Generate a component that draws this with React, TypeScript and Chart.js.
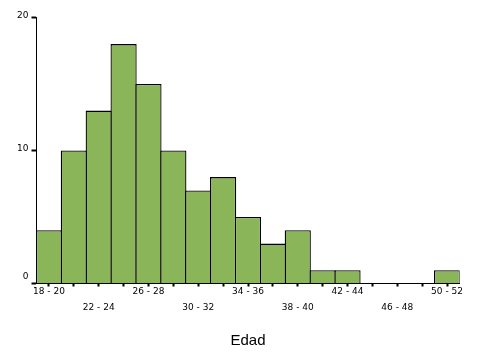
import React, { useEffect, useRef } from "react";
import { Chart, registerables } from "chart.js";

Chart.register(...registerables);

const categories = [
  "18 - 20", "20 - 22", "22 - 24", "24 - 26", "26 - 28", "28 - 30",
  "30 - 32", "32 - 34", "34 - 36", "36 - 38", "38 - 40", "40 - 42",
  "42 - 44", "44 - 46", "46 - 48", "48 - 50", "50 - 52",
];
const counts = [4, 10, 13, 18, 15, 10, 7, 8, 5, 3, 4, 1, 1, 0, 0, 0, 1];
const yTicks = [0, 10, 20];
const xTitle = "Edad";

export default function App() {
  const ref = useRef<HTMLCanvasElement | null>(null);

  useEffect(() => {
    if (!ref.current) return;
    const binW = 423 / 17;
    const bw = 1.3;
    const chart = new Chart(ref.current, {
      type: "bar",
      data: {
        labels: categories,
        datasets: [
          {
            data: counts,
            backgroundColor: "rgb(138,181,89)",
            borderColor: "#000",
            borderWidth: bw,
            borderSkipped: "start",
            barPercentage: (binW + bw) / binW,
            categoryPercentage: 1,
          },
        ],
      },
      options: {
        responsive: false,
        animation: false,
        layout: { padding: { top: 17.5, right: 19.5, left: 0, bottom: 0 } },
        plugins: { legend: { display: false }, tooltip: { enabled: false }, title: { display: false } },
        scales: {
          x: {
            offset: true,
            afterFit: (s: any) => { s.height = 75.5; },
            grid: {
              offset: false,
              drawOnChartArea: false,
              drawTicks: true,
              tickLength: 3,
              tickWidth: 2,
              tickColor: "#000",
            },
            border: { display: true, color: "#000", width: 1 },
            ticks: {
              autoSkip: false,
              maxRotation: 0,
              minRotation: 0,
              padding: -3,
              color: "#000",
              font: { family: "DejaVu Sans", size: 9, lineHeight: "16px" },
              callback: (_v: any, i: number) => {
                if (i % 2 === 1) return "";
                if (i % 4 === 0) return categories[i];
                return ["", categories[i]];
              },
            },
            title: {
              display: true,
              text: xTitle,
              color: "#000",
              font: { family: "Liberation Sans", size: 15, lineHeight: 1.2 },
              padding: { top: 0, bottom: 9.5 },
            },
          },
          y: {
            min: 0,
            max: 20,
            afterFit: (s: any) => { s.width = 36.5; },
            afterBuildTicks: (s: any) => { s.ticks = yTicks.map((v) => ({ value: v })); },
            grid: {
              drawOnChartArea: false,
              drawTicks: true,
              tickLength: 5,
              tickWidth: 2,
              tickColor: "#000",
            },
            border: { display: true, color: "#000", width: 1 },
            ticks: {
              padding: 3,
              labelOffset: -2,
              color: "#000",
              font: { family: "DejaVu Sans", size: 9, lineHeight: 1 },
              callback: (v: any) => (Number(v) === 0 ? ["0", ""] : String(v)),
            },
          },
        },
      },
    });
    return () => chart.destroy();
  }, []);

  return (
    <div style={{ position: "absolute", left: 0, top: 0, width: 479, height: 359, background: "#fff" }}>
      <canvas ref={ref} width={479} height={359} />
    </div>
  );
}
